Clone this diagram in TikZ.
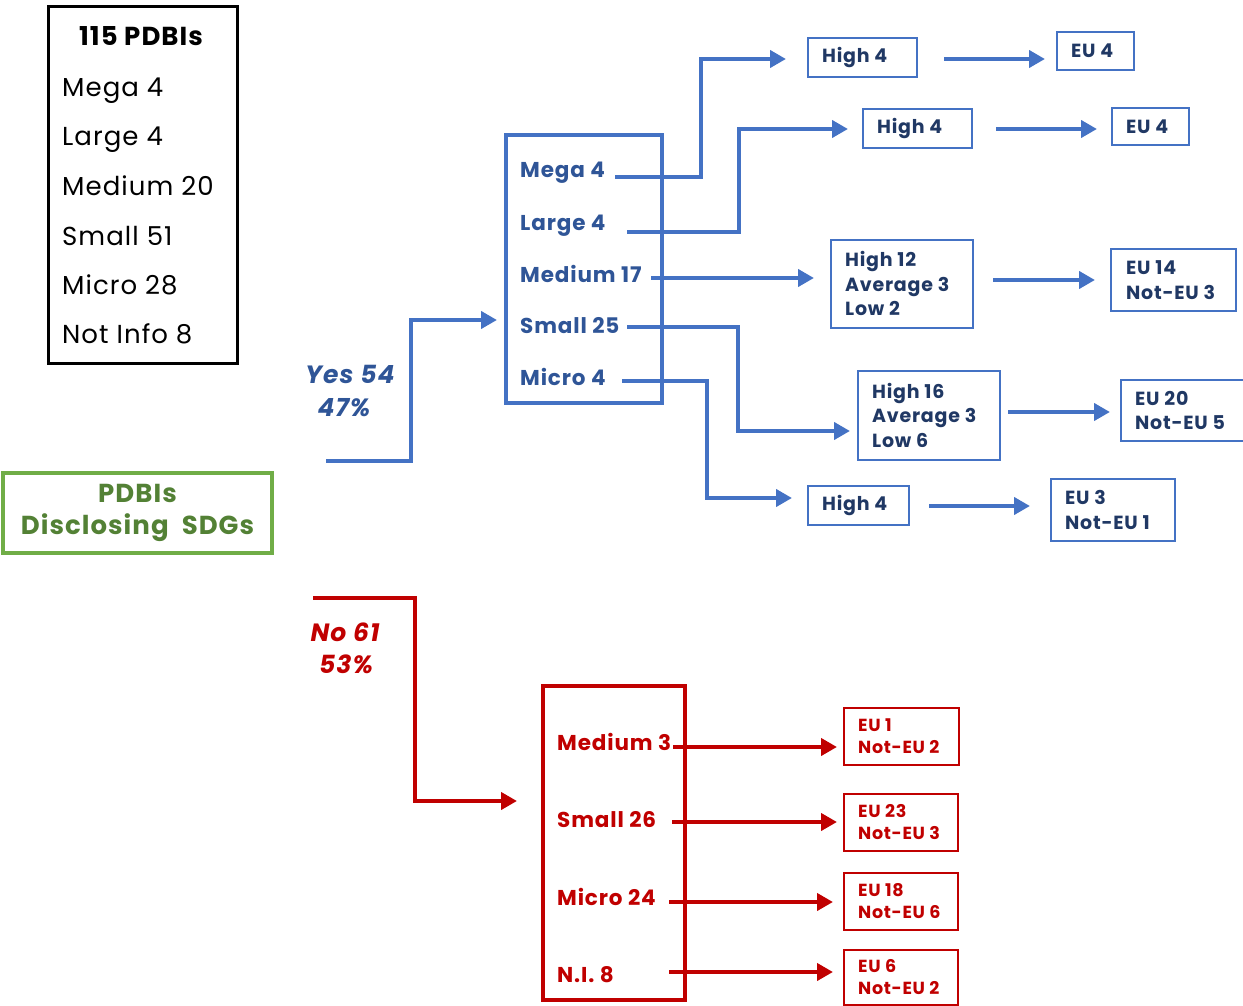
\documentclass[tikz,border=0pt]{standalone}
\usepackage{fontspec}
\setmainfont[LetterSpace=4]{Poppins}
\usetikzlibrary{arrows.meta}
\definecolor{bline}{HTML}{4472C4}
\definecolor{btext}{HTML}{2F5597}
\definecolor{navy}{HTML}{203864}
\definecolor{rline}{HTML}{C00000}
\definecolor{gline}{HTML}{70AD47}
\definecolor{gtext}{HTML}{538135}
\newcommand\fsBig{\fontsize{26}{33}\selectfont}
\newcommand\fsMid{\fontsize{21.5}{26}\selectfont}
\newcommand\fsLab{\fontsize{25}{33}\selectfont}
\newcommand\fsS{\fontsize{19}{24.5}\selectfont}
\newcommand\fsR{\fontsize{17.5}{22}\selectfont}
\begin{document}
\begin{tikzpicture}[x=1pt,y=-1pt,
  barrow/.style={draw=bline,line width=4.5pt,-{Triangle[length=16pt,width=17pt]}},
  rarrow/.style={draw=rline,line width=4.5pt,-{Triangle[length=16pt,width=17pt]}},
  bframe/.style={draw=bline,line width=1.8pt,anchor=north west,inner sep=0pt},
  rframe/.style={draw=rline,line width=1.6pt,anchor=north west,inner sep=0pt},
  btxt/.style={anchor=west,inner sep=0pt,align=left,text=navy,font=\fsS\bfseries},
  rtxt/.style={anchor=west,inner sep=0pt,align=left,text=rline,font=\fsR\bfseries},
  lbl/.style={anchor=base west,inner sep=0pt},
]
\useasboundingbox (0,0) rectangle (1243,1006);

% total box
\node[draw=black,line width=3pt,anchor=north west,minimum width=189pt,minimum height=357pt,inner sep=0pt] (tot) at (47,5) {};
\node[anchor=base,inner sep=0pt,font=\fsBig\bfseries] (title) at (141,46) {115 PDBIs};
\node[lbl,font=\fsBig] (t1) at (62,97) {Mega 4};
\node[lbl,font=\fsBig] (t2) at (62,146) {Large 4};
\node[lbl,font=\fsBig] (t3) at (62,196) {Medium 20};
\node[lbl,font=\fsBig] (t4) at (62,245) {Small 51};
\node[lbl,font=\fsBig] (t5) at (62,294) {Micro 28};
\node[lbl,font=\fsBig] (t6) at (62,343) {Not Info 8};

% green box
\node[draw=gline,line width=3.5pt,minimum width=269pt,minimum height=80pt,inner sep=0pt,
      align=center,text=gtext,font=\fontsize{26}{32}\selectfont\bfseries] (sdg) at (137.5,513) {PDBIs\\Disclosing\ \ SDGs};

% yes / no labels
\node[anchor=base,inner sep=0pt,text=btext,font=\fsLab\bfseries\itshape] (yes) at (350,383) {Yes 54};
\node[anchor=base,inner sep=0pt,text=btext,font=\fsLab\bfseries\itshape] (yesp) at (344,416) {47\%};
\node[anchor=base,inner sep=0pt,text=rline,font=\fsLab\bfseries\itshape] (no) at (345,641) {No 61};
\node[anchor=base,inner sep=0pt,text=rline,font=\fsLab\bfseries\itshape] (nop) at (346,673) {53\%};

% blue size box
\node[draw=bline,line width=4pt,anchor=north west,minimum width=156pt,minimum height=268pt,inner sep=0pt] (ybox) at (504,133) {};
\node[lbl,text=btext,font=\fsMid\bfseries] (ymega) at (520,178) {Mega 4};
\node[lbl,text=btext,font=\fsMid\bfseries] (ylarge) at (520,230) {Large 4};
\node[lbl,text=btext,font=\fsMid\bfseries] (ymed) at (520,282) {Medium 17};
\node[lbl,text=btext,font=\fsMid\bfseries] (ysmall) at (520,333) {Small 25};
\node[lbl,text=btext,font=\fsMid\bfseries] (ymicro) at (520,385) {Micro 4};

% red size box
\node[draw=rline,line width=4pt,anchor=north west,minimum width=142pt,minimum height=314pt,inner sep=0pt] (nbox) at (541,684) {};
\node[lbl,text=rline,font=\fsMid\bfseries] (nmed) at (557,750) {Medium 3};
\node[lbl,text=rline,font=\fsMid\bfseries] (nsmall) at (557,827) {Small 26};
\node[lbl,text=rline,font=\fsMid\bfseries] (nmicro) at (557,905) {Micro 24};
\node[lbl,text=rline,font=\fsMid\bfseries] (nni) at (557,982) {N.I. 8};

% blue result boxes
\node[bframe,minimum width=109pt,minimum height=39pt] (h1) at (807,37) {};
\node[btxt] (h1t) at ([xshift=15pt]h1.west) {High 4};
\node[bframe,minimum width=77pt,minimum height=38pt] (e1) at (1056,31) {};
\node[btxt] (e1t) at ([xshift=15pt]e1.west) {EU 4};
\node[bframe,minimum width=109pt,minimum height=39pt] (h2) at (862,108) {};
\node[btxt] (h2t) at ([xshift=15pt]h2.west) {High 4};
\node[bframe,minimum width=77pt,minimum height=37pt] (e2) at (1111,107) {};
\node[btxt] (e2t) at ([xshift=15pt]e2.west) {EU 4};
\node[bframe,minimum width=142pt,minimum height=88pt] (h3) at (830,239) {};
\node[btxt] (h3t) at ([xshift=15pt]h3.west) {High 12\\Average 3\\Low 2};
\node[bframe,minimum width=125pt,minimum height=62pt] (e3) at (1110,248) {};
\node[btxt] (e3t) at ([xshift=16pt]e3.west) {EU 14\\Not-EU 3};
\node[bframe,minimum width=142pt,minimum height=89pt] (h4) at (857,370) {};
\node[btxt] (h4t) at ([xshift=15pt]h4.west) {High 16\\Average 3\\Low 6};
\node[bframe,minimum width=125pt,minimum height=61pt] (e4) at (1120,379) {};
\node[btxt] (e4t) at ([xshift=15pt]e4.west) {EU 20\\Not-EU 5};
\node[bframe,minimum width=101pt,minimum height=39pt] (h5) at (807,485) {};
\node[btxt] (h5t) at ([xshift=15pt]h5.west) {High 4};
\node[bframe,minimum width=124pt,minimum height=62pt] (e5) at (1050,478) {};
\node[btxt] (e5t) at ([xshift=15pt]e5.west) {EU 3\\Not-EU 1};

% red result boxes
\node[rframe,minimum width=115pt,minimum height=57pt] (r1) at (843,707) {};
\node[rtxt] (r1t) at ([xshift=15pt]r1.west) {EU 1\\Not-EU 2};
\node[rframe,minimum width=114pt,minimum height=57pt] (r2) at (843,793) {};
\node[rtxt] (r2t) at ([xshift=15pt]r2.west) {EU 23\\Not-EU 3};
\node[rframe,minimum width=114pt,minimum height=57pt] (r3) at (843,872) {};
\node[rtxt] (r3t) at ([xshift=15pt]r3.west) {EU 18\\Not-EU 6};
\node[rframe,minimum width=114pt,minimum height=55pt] (r4) at (843,949) {};
\node[rtxt] (r4t) at ([xshift=15pt]r4.west) {EU 6\\Not-EU 2};

% connector end points
\coordinate (ys) at (326,461);
\coordinate (ye) at (497,320);
\coordinate (ns) at (313,598);
\coordinate (ne) at (517,801);
\coordinate (m1) at (615,177);  \coordinate (m1e) at (786,59);
\coordinate (l1) at (627,232);  \coordinate (l1e) at (848,129);
\coordinate (d1) at (651,278);  \coordinate (d1e) at (814,278);
\coordinate (s1) at (627,327);  \coordinate (s1e) at (850,431);
\coordinate (c1) at (622,381);  \coordinate (c1e) at (792,498);
\coordinate (a1s) at (944,59);   \coordinate (a1e) at (1045,59);
\coordinate (a2s) at (996,129);  \coordinate (a2e) at (1097,129);
\coordinate (a3s) at (993,280);  \coordinate (a3e) at (1095,280);
\coordinate (a4s) at (1008,412); \coordinate (a4e) at (1110,412);
\coordinate (a5s) at (929,506);  \coordinate (a5e) at (1030,506);
\coordinate (q1s) at (673,747);  \coordinate (q1e) at (837,747);
\coordinate (q2s) at (672,822);  \coordinate (q2e) at (837,822);
\coordinate (q3s) at (669,902);  \coordinate (q3e) at (833,902);
\coordinate (q4s) at (669,972);  \coordinate (q4e) at (833,972);

% yes / no connectors
\draw[barrow] (ys) -- (411,461) -- (411,320) -- (ye);
\draw[rarrow] (ns) -- (415,598) -- (415,801) -- (ne);

% blue connectors
\draw[barrow] (m1) -- (701,177) -- (701,59) -- (m1e);
\draw[barrow] (l1) -- (739,232) -- (739,129) -- (l1e);
\draw[barrow] (d1) -- (d1e);
\draw[barrow] (s1) -- (738,327) -- (738,431) -- (s1e);
\draw[barrow] (c1) -- (707,381) -- (707,498) -- (c1e);
\draw[barrow] (a1s) -- (a1e);
\draw[barrow] (a2s) -- (a2e);
\draw[barrow] (a3s) -- (a3e);
\draw[barrow] (a4s) -- (a4e);
\draw[barrow] (a5s) -- (a5e);

% red connectors
\draw[rarrow] (q1s) -- (q1e);
\draw[rarrow] (q2s) -- (q2e);
\draw[rarrow] (q3s) -- (q3e);
\draw[rarrow] (q4s) -- (q4e);
\end{tikzpicture}
\end{document}
